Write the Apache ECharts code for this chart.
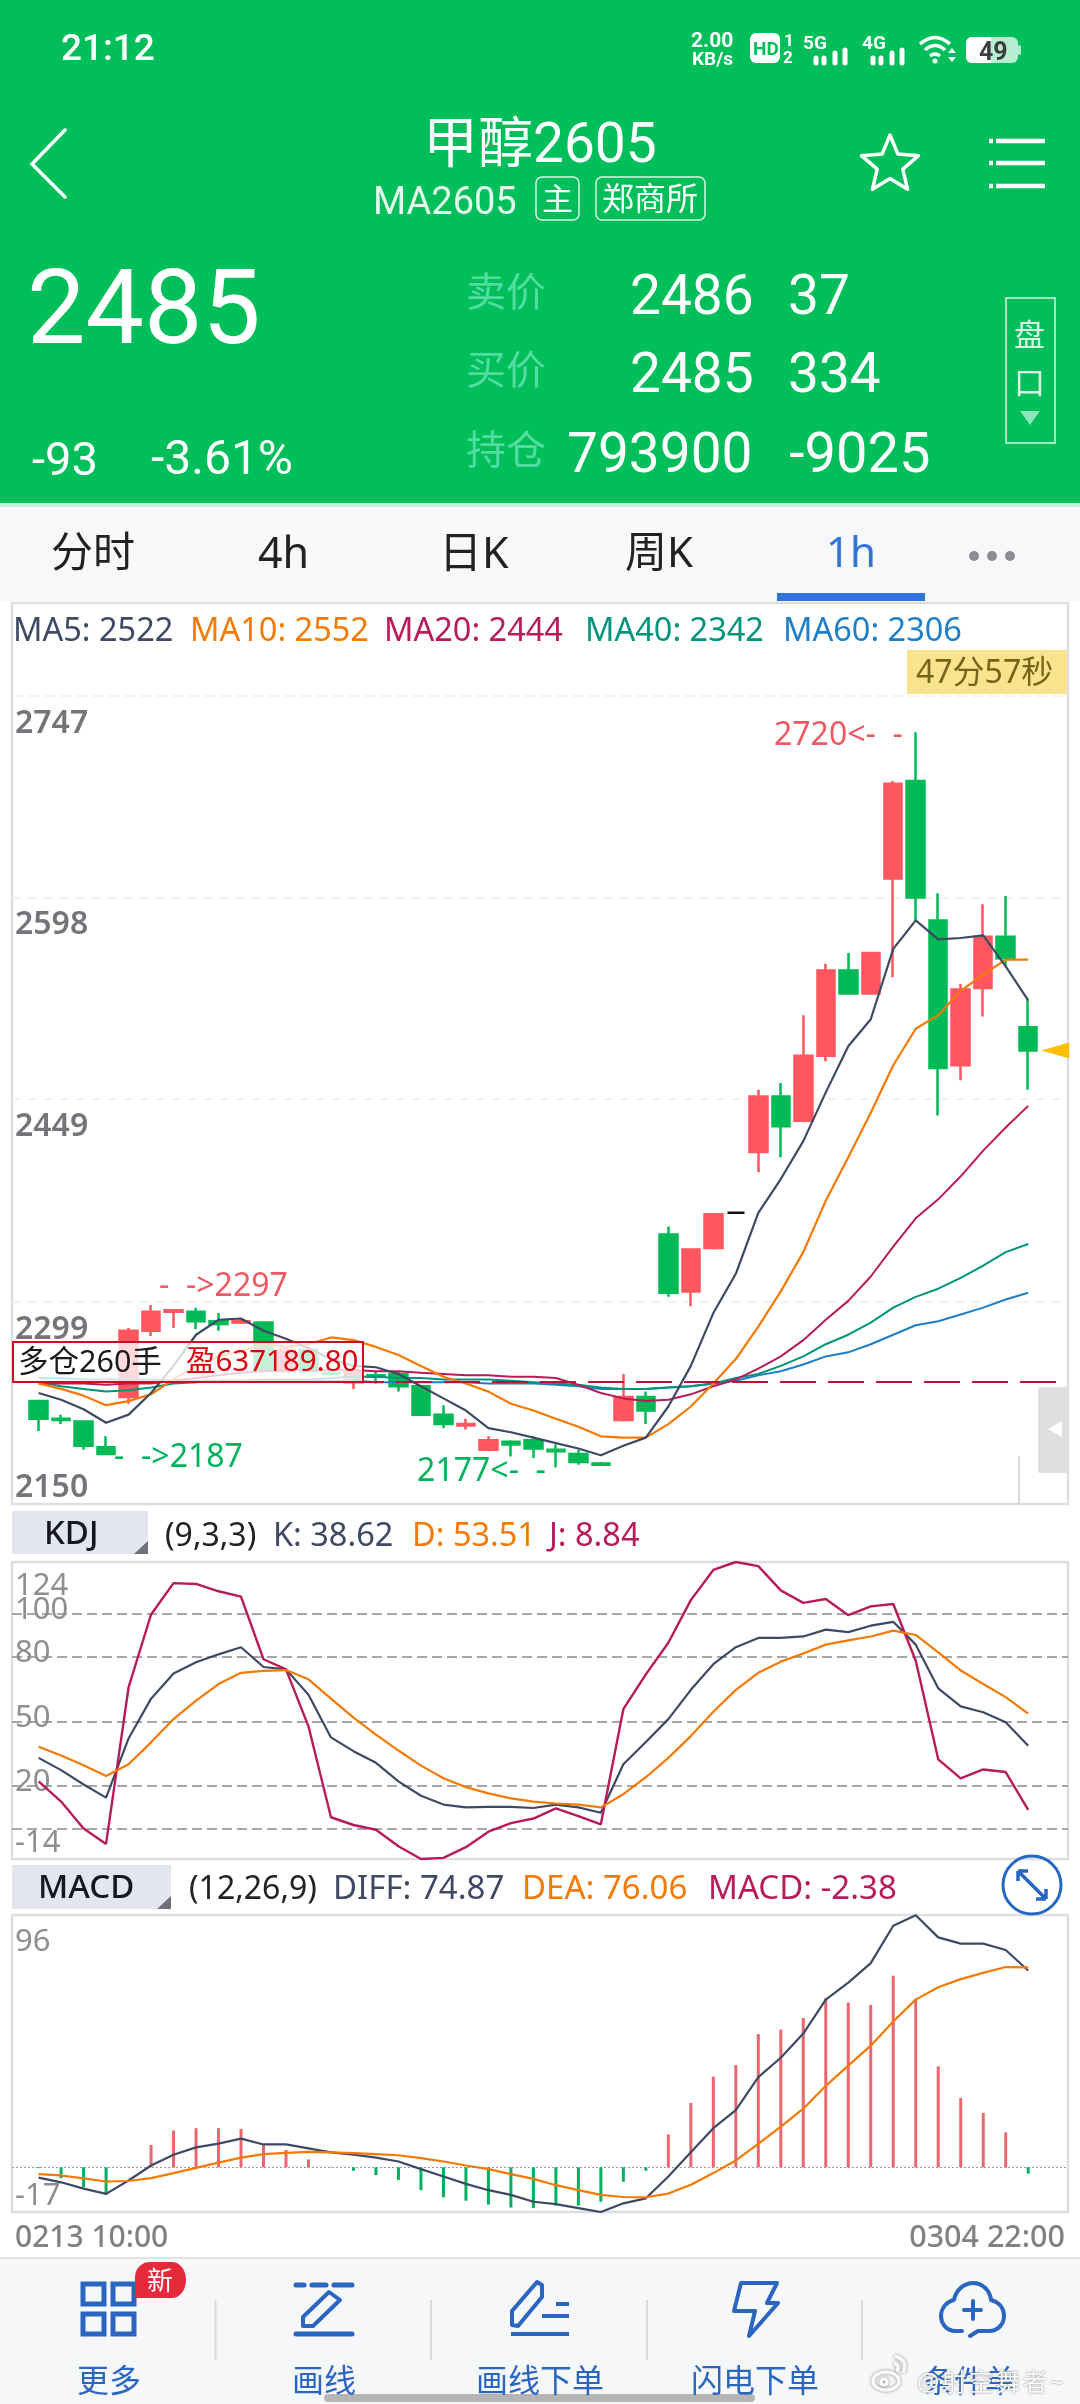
<!DOCTYPE html>
<html>
<head>
<meta charset="utf-8">
<title>甲醇2605 1h</title>
<script src="https://cdn.jsdelivr.net/npm/echarts@6/dist/echarts.min.js"></script>
<style>
html,body{margin:0;padding:0;background:#fff;width:1080px;height:2404px;overflow:hidden;font-family:"Noto Sans","Noto Sans CJK SC",sans-serif}
#chart{position:absolute;left:0;top:0;width:1080px;height:2404px}
#head{position:absolute;left:0;top:0;width:1080px;height:503px;background:#00bf5b;border-bottom:4px solid #c6f0d8}
#tabs{position:absolute;left:0;top:507px;width:1080px;height:95px;background:#f7f8fa}
#foot{position:absolute;left:0;top:2257px;width:1080px;height:147px;background:#f6f7f9;border-top:2px solid #e2e3e6;box-sizing:border-box}
#ui{position:absolute;left:0;top:0;width:1080px;height:2404px}
#ui span{position:absolute;white-space:nowrap;line-height:1;transform:translateY(-50%)}
svg{position:absolute;left:0;top:0}
</style>
</head>
<body>
<div id="chart"></div>
<div id="head"></div>
<div id="tabs"></div>
<div id="foot"></div>
<svg width="1080" height="2404" fill="none">
  <!-- 顶部图标 -->
  <path d="M65 130L32 164L65 197" stroke="#fff" stroke-width="3.5" stroke-linecap="round"/>
  <polygon points="890,135 897.9,154.1 918.5,155.7 902.8,169.2 907.6,189.3 890,178.5 872.4,189.3 877.2,169.2 861.5,155.7 882.1,154.1" stroke="#fff" stroke-width="3.5" stroke-linejoin="round"/>
  <path d="M996 141H1045M996 163H1045M996 186H1045" stroke="#fff" stroke-width="4.5"/>
  <path d="M989 141H993M989 163H993M989 186H993" stroke="#fff" stroke-width="4.5"/>
  <rect x="536" y="177" width="43" height="43" rx="6" stroke="#d8f6e4" stroke-width="1.5"/>
  <rect x="596" y="177" width="109" height="43" rx="6" stroke="#d8f6e4" stroke-width="1.5"/>
  <rect x="1006" y="298" width="49" height="145" stroke="#d8f6e4" stroke-width="1.5"/>
  <polygon points="1020,411 1040,411 1030,425" fill="#8ce8bb"/>
  <!-- 状态栏 -->
  <rect x="750" y="33" width="30" height="30" rx="6" fill="#fff"/>
  <path d="M816 63v-5M824 63v-5M835 63v-10M845 63v-13M873 63v-5M881 63v-5M892 63v-10M902 63v-13" stroke="#fff" stroke-width="5" stroke-linecap="round"/>
  <path d="M920 44Q935 31 950 44M925 50Q935 41 945 50M930 56Q935 52 940 56" stroke="#fff" stroke-width="3.5"/>
  <circle cx="935" cy="61" r="2.5" fill="#fff"/>
  <path d="M948 53h8l-4-5zM948 57h8l-4 5z" fill="#fff"/>
  <rect x="966" y="37" width="52" height="26" rx="6" fill="#b7edd0"/>
  <path d="M972 37H991V63H972a6 6 0 0 1-6-6V43a6 6 0 0 1 6-6z" fill="#fff"/>
  <rect x="1018" y="45" width="3" height="10" rx="1.5" fill="#b7edd0"/>
  <!-- 坐标周期 -->
  <rect x="777" y="593" width="148" height="8" fill="#2f74d8"/>
  <circle cx="974" cy="556" r="5" fill="#8b8d92"/><circle cx="992" cy="556" r="5" fill="#8b8d92"/><circle cx="1010" cy="556" r="5" fill="#8b8d92"/>
  <!-- MACD 放大按钮 -->
  <g stroke="#2468c4">
    <ellipse cx="1032" cy="1885" rx="29" ry="29" stroke-width="3"/>
    <path d="M1018 1871L1046 1899M1018 1871v10M1018 1871h10M1046 1899v-10M1046 1899h-10" stroke-width="3.5"/>
  </g>
  <!-- 底部图标 -->
  <g stroke="#2a66c0" stroke-width="5">
    <rect x="83" y="2284" width="21" height="20"/><rect x="113" y="2284" width="21" height="20"/>
    <rect x="83" y="2314" width="21" height="20"/><rect x="113" y="2314" width="21" height="20"/>
    <path d="M296 2285h8M312 2285h14M334 2285h18" stroke-linecap="round"/>
    <path d="M296 2334H352" stroke-linecap="round"/>
    <path d="M303 2326V2317L329 2292L340 2300L313 2326Z" stroke-width="4" stroke-linejoin="round"/>
    <path d="M512 2325L512 2311L537 2282L542 2285L542 2297L518 2326Z" stroke-width="4" stroke-linejoin="round"/>
    <path d="M511 2334H569M542 2316H569M556 2304H569" stroke-width="4"/>
    <path d="M741 2283H777L767 2303H778L749 2336L755 2311H734Z" stroke-width="4" stroke-linejoin="round"/>
    <path d="M962 2331H956C945 2331 941 2322 941 2316C941 2307 948 2301 954 2300C956 2289 965 2283 973 2283C982 2283 990 2290 991 2300C999 2302 1004 2308 1004 2316C1004 2324 998 2331 989 2331H978L970 2336" stroke-width="4" stroke-linecap="round" stroke-linejoin="round"/>
    <path d="M964 2310H981M973 2301V2319" stroke-width="4" stroke-linecap="round"/>
  </g>
  <path d="M215.5 2300v60M431 2300v60M647 2300v60M862 2300v60" stroke="#d9dbde" stroke-width="2"/>
  <path d="M150 2262h22a14 18 0 0 1 14 18v0a14 18 0 0 1-14 18h-37v-21a15 15 0 0 1 15-15z" fill="#e5283a"/>
  <rect x="324" y="2394" width="431" height="8" rx="4" fill="#b5b5b5"/>
</svg>
<div id="ui"></div>
<svg width="1080" height="2404" fill="none">
  <!-- 水印 -->
  <g stroke="rgba(255,255,255,.95)" stroke-width="3.5" style="filter:drop-shadow(0 0 1.5px rgba(110,110,110,.9))">
    <ellipse cx="886" cy="2381" rx="13" ry="9"/>
    <circle cx="884" cy="2382" r="3"/>
    <path d="M897 2372q3-7-3-9M903 2373q6-12-8-17"/>
  </g>
</svg>

<script>
// 时间轴首尾（中间的K线标签图上没有）
var firstTime = '0213 10:00';
var lastTime = '0304 22:00';

// 1h K线：开 收 低 高
var opens  = [2226,2213,2211,2192,2229,2278,2292,2292,2285,2284,2284,2248,2264,2247,2240,2245,2246,2237,2216,2208,2190,2196,2197,2190,2187,2180,2212,2229,2349,2307,2339,2365,2410,2451,2433,2481,2544,2527,2612,2684,2581,2474,2531,2569,2502];
var closes = [2213,2212,2193,2187,2278,2292,2293,2285,2283,2285,2249,2264,2248,2246,2248,2244,2237,2216,2209,2209,2197,2194,2191,2189,2181,2179,2229,2219,2306,2338,2364,2365,2451,2429,2481,2544,2527,2557,2682,2598,2472,2530,2569,2553,2485];
var lows   = [2204,2209,2190,2187,2224,2274,2280,2279,2278,2283,2248,2247,2247,2245,2235,2239,2233,2215,2206,2205,2189,2185,2184,2177,2179,2178,2211,2209,2303,2296,2338,2365,2395,2406,2432,2477,2527,2527,2539,2580,2437,2463,2510,2547,2456];
var highs  = [2226,2216,2211,2200,2280,2297,2293,2295,2291,2287,2285,2265,2266,2248,2249,2248,2248,2237,2223,2213,2200,2197,2200,2194,2190,2181,2246,2233,2355,2338,2364,2365,2456,2461,2511,2549,2557,2557,2684,2720,2601,2534,2593,2599,2523];

// 均线
var ma5  = [2232,2227,2220,2210,2216,2232,2252,2275,2286,2287,2278,2272,2265,2257,2252,2251,2246,2237,2228,2219,2206,2203,2199,2195,2191,2186,2193,2199,2222,2252,2291,2320,2365,2390,2418,2454,2488,2508,2560,2581,2567,2568,2570,2547,2522];
var ma10 = [2239,2235,2230,2223,2226,2231,2242,2252,2259,2263,2268,2266,2268,2273,2271,2266,2260,2252,2244,2239,2233,2224,2219,2213,2207,2200,2199,2199,2209,2222,2239,2257,2281,2307,2336,2374,2406,2439,2474,2501,2511,2529,2541,2552,2552];
var ma20 = [2239,2239,2239,2238,2239,2239,2241,2243,2245,2247,2248,2249,2249,2249,2249,2248,2248,2247,2246,2245,2245,2244,2244,2243,2238,2232,2228,2226,2227,2231,2237,2242,2250,2259,2271,2286,2300,2318,2340,2361,2375,2392,2411,2428,2444];
var ma40 = [2240,2237,2235,2233,2234,2236,2239,2240,2241,2241,2242,2242,2242,2243,2244,2244,2243,2243,2242,2242,2242,2241,2240,2239,2238,2236,2235,2235,2236,2237,2239,2243,2246,2252,2259,2268,2275,2284,2295,2303,2309,2317,2326,2336,2342];
var ma60 = [2243,2243,2242,2242,2242,2242,2241,2241,2241,2241,2241,2241,2241,2241,2241,2240,2240,2240,2240,2240,2239,2239,2239,2238,2237,2235,2235,2235,2236,2237,2239,2241,2245,2248,2253,2259,2262,2268,2275,2282,2285,2290,2295,2301,2306];

// KDJ(9,3,3)
var kLine = [33,27.3,20.6,14.5,42,60.5,72.2,77.4,81.1,84.4,75.2,74.1,62.3,42.5,36.1,30.7,22.1,15.4,11.3,10,10.2,10.2,9.7,11.3,10,7.5,30,40.4,51,64.6,76.5,84.4,88.7,88.7,89.4,92.6,91.4,94.4,96.2,85.6,65.3,56.9,54.2,49.5,38.62];
var dLine = [38.2,34.1,29.6,24.6,30,40.2,51,59.6,67.3,72.5,73.4,73.8,69.5,60.5,51.7,43.8,36.4,29.4,23.5,19.4,16.5,14.2,12.7,11.8,11.3,10,16.1,24,33,43.1,54.4,64.6,72.5,77.7,81.5,85.6,87.6,89.4,92.1,90.1,82,73.6,67.3,61.2,53.51];
var jLine = [22.1,12.7,0.2,-7,65.7,99.6,114.2,113.8,110.4,107.9,78.8,74.1,47.6,5.4,1.8,-0.4,-8.1,-14,-13.5,-8.5,-1.3,2.7,4.8,9.5,5.9,2.1,55.6,71.8,86.5,106.3,120.3,124,122.1,110.8,105,106.8,99.3,103.4,104.5,78.1,32.3,23.5,27.6,26.4,8.84];

// MACD(12,26,9)
var diffLine = [-3.9,-5.7,-8.1,-10.1,-5,0.7,4.8,7.6,9,10.9,8.7,8.7,7.2,5.7,4.8,3.7,2.2,-0.7,-3.5,-6.3,-8.7,-10.5,-13.1,-14,-15.5,-17,-13.7,-11.8,-3.5,5.7,14.9,21.8,34.3,41.7,50.9,63.8,70.3,77.7,91.9,95.9,87.5,85.1,85.1,82.7,74.87];
var deaLine = [-2.6,-3.1,-4.2,-5.4,-5.2,-4.1,-2.2,-0.2,1.8,3.7,5,5.5,5.9,5.7,5.4,5,4.6,3.5,2.2,0.7,-0.7,-2.6,-4.4,-6.8,-8.7,-10.5,-11.3,-11.4,-10,-6.6,-2.2,2.6,8.9,15.5,22.3,31,38.7,46.3,55.5,63.8,68.5,71.6,74,76.2,76.06];
var macdBars = [-0.3,-4.1,-7.6,-10.3,0.2,8.5,14,14.9,14.9,14.6,8.5,6.6,3,0.2,-1.3,-3,-4.8,-8.7,-11.4,-12.7,-14.2,-15.3,-15.5,-14.6,-14.6,-13.1,-5.5,-1.3,12.5,24.5,34.5,38.9,50.7,52.4,56.8,64.4,62.7,61.8,72.9,64.2,38.4,26.4,20.7,13.3,-2.38];

// 刻度
var priceLabels = [2150,2299,2449,2598,2747];
var priceLines = [2299,2449,2598,2747];
var kdjMax = 124;
var kdjLabels = [-14,20,50,80,100]; // 124 与 100 压在一起，单独画
var kdjLines = [0,20,50,80,100];
var macdLabels = [-17,96];
var macdLines = [0];

var UP = '#ff5660', DOWN = '#00bb55';
var font = '"Noto Sans","Noto Sans CJK SC",sans-serif';
var headFont = 'Roboto,"Noto Sans CJK SC",sans-serif';

function pairs(arr){ return arr.map(function(v,i){ return [i,v]; }); }

// 页面框架文字
var ui = document.getElementById('ui');
function put(text,x,y,size,color,css){
    var s = document.createElement('span');
    s.textContent = text;
    s.style.cssText = 'left:'+x+'px;top:'+y+'px;font-size:'+size+'px;color:'+color+';'+(css||'');
    ui.appendChild(s);
}
var thin = 'font-family:'+headFont+';font-weight:400;';
var bold = 'font-family:'+headFont+';font-weight:700;';
put('21:12',61,47,37,'#fff','font-family:'+headFont+';font-weight:500;');
put('2.00',691,40,21,'#fff',bold);
put('KB/s',692,58,19,'#fff',bold);
put('HD',753,48,19,'#00bf5b',bold);
put('1',784,40,17,'#fff',bold);
put('2',783,57,17,'#fff',bold);
put('5G',803,42,19,'#fff',bold);
put('4G',862,42,19,'#fff',bold);
put('49',979,51,25,'#3c3c3c',bold);
put('甲醇2605',423,143,55,'#fff',thin);
put('MA2605',373,201,38,'#e4f9ed',thin);
put('主',542,199,31,'#fff',thin);
put('郑商所',602,199,32,'#fff',thin);
put('2485',27,308,104,'#fff',thin);
put('-93',32,458,47,'#fff',thin);
put('-3.61%',151,458,48,'#fff',thin);
put('卖价',466,293,40,'#52dda0',thin);
put('2486',630,295,55,'#fff',thin);
put('37',788,295,55,'#fff',thin);
put('买价',466,371,40,'#52dda0',thin);
put('2485',630,373,55,'#fff',thin);
put('334',788,373,55,'#fff',thin);
put('持仓',466,451,40,'#52dda0',thin);
put('793900',567,453,55,'#fff',thin);
put('-9025',789,453,56,'#fff',thin);
put('盘',1014,335,31,'#d8f6e4',thin);
put('口',1014,383,31,'#d8f6e4',thin);
put('分时',51,551,42,'#222','');
put('4h',258,551,43,'#222','');
put('日K',439,551,43,'#222','');
put('周K',625,551,42,'#222','');
put('1h',826,551,42,'#2f74d8','');
put('更多',77,2380,32,'#2a66c0','');
put('画线',292,2380,32,'#2a66c0','');
put('画线下单',476,2380,32,'#2a66c0','');
put('闪电下单',691,2380,32,'#2a66c0','');
put('条件单',923,2380,31,'#2a66c0','');
put('新',147,2280,26,'#fff','');
put('@射空舞者~',917,2381,25,'rgba(255,255,255,.95)','letter-spacing:2px;text-shadow:0 0 2px rgba(110,110,110,.9);');

// 图内文字
function label(text,x,y,size,color,weight){
    return {type:'text',z:60,x:x,y:y,silent:true,style:{text:text,fontSize:size,fill:color,fontFamily:font,fontWeight:weight||400,verticalAlign:'middle'}};
}
function panelTab(x2,y1,y2,name,nameX,nameY){
    return [
        {type:'rect',z:50,silent:true,shape:{x:12,y:y1,width:x2-12,height:y2-y1},style:{fill:'#e3e6f0'}},
        {type:'polygon',z:51,silent:true,shape:{points:[[x2,y2-13],[x2,y2],[x2-14,y2]]},style:{fill:'#6f7076'}},
        label(name,nameX,nameY,33,'#16181d',500)
    ];
}

var chart = echarts.init(document.getElementById('chart'));

var graphics = [
    label('MA5: '+ma5[44],13,632,32.5,'#3e4a63'),
    label('MA10: '+ma10[44],190,632,32.5,'#f57a05'),
    label('MA20: '+ma20[44],384,632,32.5,'#b81b5a'),
    label('MA40: '+ma40[44],585,632,32.5,'#00957b'),
    label('MA60: '+ma60[44],783,632,32.5,'#1d7ec9'),
    {type:'rect',z:50,silent:true,shape:{x:907,y:650,width:160,height:44},style:{fill:'#fbe38e'}},
    label('47分57秒',916,674,32,'#75651a'),
    {type:'rect',z:55,silent:true,shape:{x:13,y:1342,width:350,height:40},style:{fill:'rgba(255,255,255,.78)',stroke:'#c8101e',lineWidth:2}},
    label('多仓260手',18,1363,30.5,'#1a1a1a'),
    label('盈637189.80',186,1363,29.5,'#dd0010'),
    {type:'rect',z:50,silent:true,shape:{x:1038,y:1387,width:30,height:86,r:2},style:{fill:'#dedfe1'}},
    {type:'polygon',z:51,silent:true,shape:{points:[[1048,1429],[1062,1421],[1062,1437]]},style:{fill:'#fff'}},
    {type:'rect',z:50,silent:true,shape:{x:1018,y:1456,width:2,height:48},style:{fill:'#d7d9dc'}},
    label(String(kdjMax),15,1586,31,'#8d8e92'),
    label('(9,3,3)',165,1537,32,'#222'),
    label('K: '+kLine[44],273,1537,32.5,'#3e4a63'),
    label('D: '+dLine[44],412,1537,32.5,'#f57a05'),
    label('J: '+jLine[44],549,1537,32.5,'#b81b5a'),
    label('(12,26,9)',189,1890,32,'#222'),
    label('DIFF: '+diffLine[44],333,1890,33,'#3e4a63'),
    label('DEA: '+deaLine[44],522,1890,33,'#f57a05'),
    label('MACD: '+macdBars[44],708,1890,33,'#b81b5a'),
    label(firstTime,15,2238,30,'#7f8185',500),
    {type:'text',z:60,x:1065,y:2238,silent:true,style:{text:lastTime,fontSize:30.5,fill:'#7f8185',fontFamily:font,fontWeight:500,verticalAlign:'middle',align:'right'}}
].concat(panelTab(148,1511,1554,'KDJ',44,1535),panelTab(171,1865,1909,'MACD',38,1889));

function grid(top,height){
    return {left:12,width:1056,top:top,height:height,show:true,backgroundColor:'#fff',borderColor:'#dcdee3',borderWidth:2.5};
}
function xAxis(gridIndex){
    return {type:'value',gridIndex:gridIndex,min:-1.183,max:45.77,show:false};
}
function yAxis(gridIndex,min,max,labels,lines,lineStyle,labelStyle){
    return {
        type:'value',gridIndex:gridIndex,min:min,max:max,
        axisLine:{show:false},
        axisTick:{show:false,customValues:lines},
        splitLine:{show:true,showMinLine:true,showMaxLine:true,lineStyle:lineStyle},
        axisLabel:Object.assign({
            inside:true,margin:3,customValues:labels,fontFamily:font,
            showMinLabel:true,showMaxLabel:true,hideOverlap:false,
            verticalAlignMinLabel:'bottom',verticalAlignMaxLabel:'top',
            formatter:function(v){ return String(v); }
        },labelStyle)
    };
}
// 副图刻度：首尾贴边，中间居中略上移
function subLabels(lineTop,lineBottom,min,max,topAlign){
    var base = {color:'#8d8e92',fontSize:31,fontFamily:font};
    return {
        color:'#8d8e92',fontSize:31,
        verticalAlignMaxLabel:topAlign,
        formatter:function(v){
            if(v===max) return '{t|'+v+'}';
            if(v===min) return '{b|'+v+'}';
            return '{m|'+v+'}';
        },
        rich:{
            t:Object.assign({lineHeight:lineTop},base),
            b:Object.assign({lineHeight:lineBottom},base),
            m:Object.assign({padding:[0,0,7,0]},base)
        }
    };
}
function line(name,data,color,width,xi,z){
    return {name:name,type:'line',xAxisIndex:xi,yAxisIndex:xi,data:pairs(data),showSymbol:false,symbol:'none',z:z||4,silent:true,lineStyle:{color:color,width:width}};
}

var candleData = opens.map(function(o,i){
    var row = {value:[i,o,closes[i],lows[i],highs[i]]};
    if(o===closes[i]) row.itemStyle = {borderColor:'#111',borderColorDoji:'#111',color:'#111',color0:'#111'};
    return row;
});
function note(text,i,price,color,pos,ox,oy){
    return {name:text,coord:[i,price],symbol:'circle',symbolSize:0,label:{show:true,formatter:'{b}',position:pos,distance:0,offset:[ox,oy],color:color,fontSize:32,fontFamily:font}};
}

chart.setOption({
    animation:false,
    backgroundColor:'#fff',
    graphic:graphics,
    grid:[grid(603,901),grid(1562,297),grid(1915,297)],
    xAxis:[xAxis(0),xAxis(1),xAxis(2)],
    yAxis:[
        yAxis(0,2150,2815.4,priceLabels,priceLines,{color:'#efefef',width:1.5,type:[9,7]},
            {color:'#74757a',fontSize:32,fontWeight:600,verticalAlign:'top',padding:[12,0,0,0]}),
        yAxis(1,-14,kdjMax,kdjLabels,kdjLines,{color:'#8a8b8f',width:1.5,type:[10,5]},subLabels(49,31,-14,kdjMax,'middle')),
        yAxis(2,-17,96,macdLabels,macdLines,{color:'#9a9a9a',width:1,type:[2,2]},subLabels(55,31,-17,96,'top'))
    ],
    series:[
        {
            name:'K线',type:'candlestick',xAxisIndex:0,yAxisIndex:0,z:2,silent:true,
            barWidth:18,
            encode:{x:0,y:[1,2,3,4]},
            data:candleData,
            itemStyle:{color:UP,color0:DOWN,borderColor:UP,borderColor0:DOWN,borderWidth:2.5},
            markPoint:{
                silent:true,animation:false,
                data:[
                    note('-  ->2297',5,highs[5],'#ee5a63','right',8,-18),
                    note('-  ->2187',3,lows[3],'#00b25c','right',8,4),
                    note('2177<-  -',23,lows[23],'#00b25c','left',-10,4),
                    note('2720<-  -',39,highs[39],'#ee5a63','left',-13,4),
                    {coord:[45.2,closes[44]],symbol:'triangle',symbolSize:[16,28],symbolRotate:90,itemStyle:{color:'#fbbf00'},label:{show:false}}
                ]
            },
            markLine:{
                silent:true,symbol:'none',animation:false,label:{show:false},
                lineStyle:{color:'#b81535',width:2,type:[36,12]},
                data:[{yAxis:2240}]
            }
        },
        line('MA60',ma60,'#1d7ec9',2,0,3),
        line('MA40',ma40,'#00957b',2,0,3),
        line('MA20',ma20,'#b81b5a',2,0,3),
        line('MA10',ma10,'#f57a05',2.2,0,4),
        line('MA5',ma5,'#3e4a63',2.2,0,5),
        line('K',kLine,'#3e4a63',2.2,1,4),
        line('D',dLine,'#f57a05',2.2,1,5),
        line('J',jLine,'#b81b5a',2.4,1,4),
        {
            name:'MACD',type:'bar',xAxisIndex:2,yAxisIndex:2,barWidth:3,z:2,silent:true,
            data:pairs(macdBars),
            itemStyle:{color:function(p){ return p.value[1]>=0 ? '#ec6670' : '#00b060'; }}
        },
        line('DIFF',diffLine,'#3e4a63',2.2,2,4),
        line('DEA',deaLine,'#f57a05',2.2,2,5)
    ]
});
</script>
</body>
</html>
